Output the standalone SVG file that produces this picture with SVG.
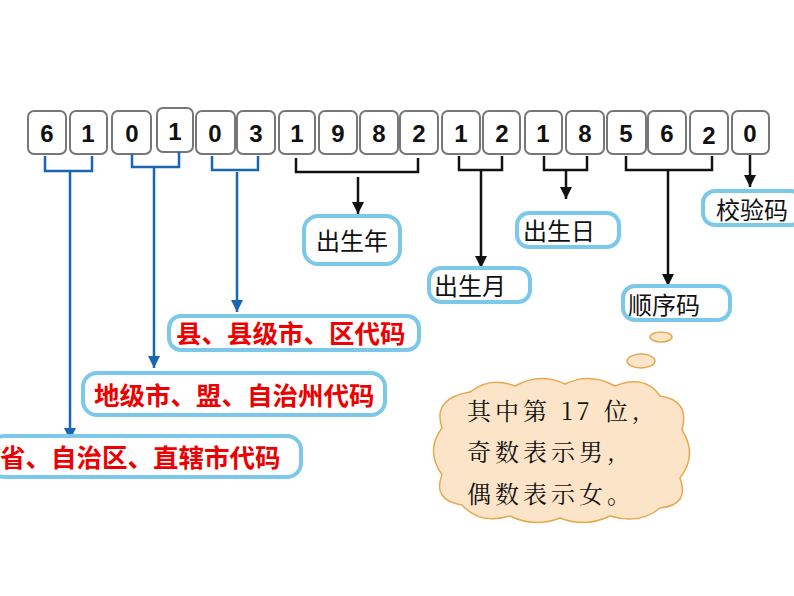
<svg xmlns="http://www.w3.org/2000/svg" width="794" height="596" viewBox="0 0 794 596">
<style>
.d{fill:#fff;stroke:#777;stroke-width:2}
.dt{font-family:"Liberation Sans",Arial,sans-serif;font-weight:bold;font-size:24px;text-anchor:middle;fill:#111}
.lb{fill:#fff;stroke:#7cc8ea;stroke-width:4}
.lt{font-family:"Noto Sans CJK SC",sans-serif;font-size:24px;fill:#111}
.rt{font-family:"Noto Sans CJK SC",sans-serif;font-size:25.5px;fill:#e00;font-weight:bold}
.bl{fill:none;stroke:#1a66b0;stroke-width:2.5}
.bk{fill:none;stroke:#111;stroke-width:2.5}
.ct{font-family:"Noto Serif CJK SC","Noto Sans CJK SC",serif;font-size:24px;fill:#111;letter-spacing:4px}
</style>
<defs>
<marker id="ab" viewBox="0 0 10 10" refX="10" refY="5" markerWidth="5" markerHeight="5" orient="auto"><path d="M0,0L10,5L0,10z" fill="#1a66b0"/></marker>
<marker id="ak" viewBox="0 0 10 10" refX="10" refY="5" markerWidth="5" markerHeight="5" orient="auto"><path d="M0,0L10,5L0,10z" fill="#111"/></marker>
</defs>
<rect width="794" height="596" fill="#fff"/>
<g id="digits">
<rect class="d" x="28" y="111" width="38" height="43" rx="6"/><text class="dt" x="47" y="142">6</text>
<rect class="d" x="70" y="111" width="37" height="43" rx="6"/><text class="dt" x="88" y="142">1</text>
<rect class="d" x="112" y="111" width="39" height="43" rx="6"/><text class="dt" x="132" y="142">0</text>
<rect class="d" x="157" y="108" width="36" height="44" rx="6"/><text class="dt" x="175" y="140">1</text>
<rect class="d" x="196" y="111" width="39" height="43" rx="6"/><text class="dt" x="215" y="142">0</text>
<rect class="d" x="237" y="111" width="38" height="43" rx="6"/><text class="dt" x="256" y="142">3</text>
<rect class="d" x="279" y="111" width="36" height="43" rx="6"/><text class="dt" x="297" y="142">1</text>
<rect class="d" x="319" y="111" width="38" height="43" rx="6"/><text class="dt" x="338" y="142">9</text>
<rect class="d" x="360" y="111" width="38" height="43" rx="6"/><text class="dt" x="379" y="142">8</text>
<rect class="d" x="400" y="111" width="38" height="43" rx="6"/><text class="dt" x="419" y="142">2</text>
<rect class="d" x="442" y="111" width="38" height="43" rx="6"/><text class="dt" x="461" y="142">1</text>
<rect class="d" x="483" y="111" width="37" height="43" rx="6"/><text class="dt" x="502" y="142">2</text>
<rect class="d" x="525" y="111" width="37" height="43" rx="6"/><text class="dt" x="543" y="142">1</text>
<rect class="d" x="566" y="111" width="38" height="43" rx="6"/><text class="dt" x="585" y="142">8</text>
<rect class="d" x="607" y="111" width="39" height="43" rx="6"/><text class="dt" x="626" y="142">5</text>
<rect class="d" x="648" y="111" width="38" height="43" rx="6"/><text class="dt" x="667" y="142">6</text>
<rect class="d" x="690" y="111" width="38" height="43" rx="6"/><text class="dt" x="709" y="144">2</text>
<rect class="d" x="732" y="111" width="37" height="43" rx="6"/><text class="dt" x="750" y="142">0</text>
</g>
<g id="connectors">
<path class="bl" d="M45,156V171H92V156M70,171V440" marker-end="url(#ab)"/>
<path class="bl" d="M132,154V167H179V152M154,167V368" marker-end="url(#ab)"/>
<path class="bl" d="M212,156V170H258V156M237,172V312" marker-end="url(#ab)"/>
<path class="bk" d="M296,158V172H418V158"/>
<path class="bk" d="M358,177V214" marker-end="url(#ak)"/>
<path class="bk" d="M459,156V170H502V156M481,170V268" marker-end="url(#ak)"/>
<path class="bk" d="M544,156V170H587V156"/>
<path class="bk" d="M566,170V199" marker-end="url(#ak)"/>
<path class="bk" d="M626,156V170H712V156M668,170V286" marker-end="url(#ak)"/>
<path class="bk" d="M750,155V187" marker-end="url(#ak)"/>
</g>
<g id="n-year"><rect class="lb" x="304" y="216" width="96" height="48" rx="14"/><text class="lt" x="316" y="250">出生年</text></g>
<g id="n-month"><rect class="lb" x="429" y="268" width="101" height="34" rx="12"/><text class="lt" x="434" y="295">出生月</text></g>
<g id="n-day"><rect class="lb" x="517" y="213" width="102" height="34" rx="12"/><text class="lt" x="523" y="240">出生日</text></g>
<g id="n-seq"><rect class="lb" x="623" y="286" width="107" height="34" rx="12"/><text class="lt" x="628" y="314">顺序码</text></g>
<g id="n-check"><rect class="lb" x="703" y="191" width="100" height="34" rx="12"/><text class="lt" x="716" y="219">校验码</text></g>
<g id="n-county"><rect class="lb" x="169" y="316" width="250" height="34" rx="12"/><text class="rt" x="176" y="343">县、县级市、区代码</text></g>
<g id="n-city"><rect class="lb" x="83" y="373" width="302" height="42" rx="14"/><text class="rt" x="94" y="405">地级市、盟、自治州代码</text></g>
<g id="n-prov"><rect class="lb" x="-10" y="436" width="311" height="41" rx="14"/><text class="rt" x="0" y="467">省、自治区、直辖市代码</text></g>
<g id="cloud">
<ellipse cx="661" cy="337" rx="11" ry="5" fill="#fce4c8" stroke="#e8a850" stroke-width="1.5"/>
<ellipse cx="641" cy="361" rx="14" ry="7" fill="#fce4c8" stroke="#e8a850" stroke-width="1.5"/>
<path d="M470,392 Q490,376 515,386 Q540,372 565,384 Q590,372 615,386 Q645,374 660,396 Q690,400 682,430 Q698,455 680,478 Q690,505 660,508 Q640,525 610,516 Q585,528 560,518 Q535,528 510,516 Q480,525 462,505 Q432,500 442,475 Q425,450 442,428 Q432,398 470,392 Z" fill="#fce4c8" stroke="#e8a850" stroke-width="1.5"/>
<text class="ct" x="467" y="420">其中第 17 位,</text>
<text class="ct" x="467" y="461">奇数表示男,</text>
<text class="ct" x="467" y="503">偶数表示女。</text>
</g>
</svg>
